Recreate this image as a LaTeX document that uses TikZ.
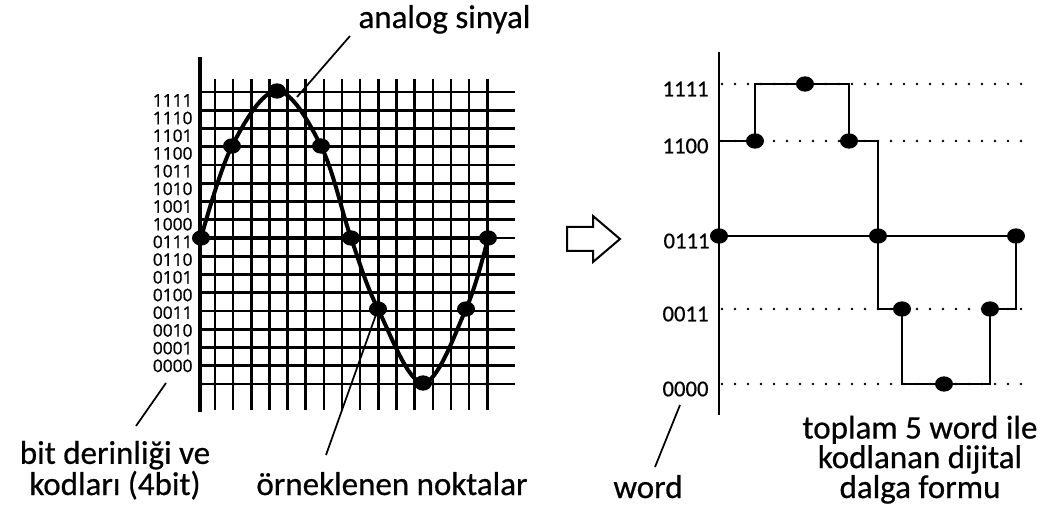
\documentclass[tikz,border=0pt]{standalone}
\usepackage{fontspec}
\setmainfont{Carlito}
\newfontfamily\capfont{Carlito}[FakeBold=0.6]
\newfontfamily\codefont{Open Sans}[FakeBold=0.9]
\usetikzlibrary{shapes.geometric}

\tikzset{every picture/.style={line width=0.75pt}}
\tikzset{
  gridln/.style={line width=1.9pt},
  axisln/.style={line width=3.5pt},
  waveln/.style={line width=3pt, line join=round, line cap=round},
  stairln/.style={line width=1.8pt, line join=miter},
  dotln/.style={line width=1.9pt, line cap=round, dash pattern=on 0pt off 9.75pt},
  leader/.style={line width=1.3pt},
  sample/.style={ellipse, fill=black, inner sep=0pt, minimum width=13.5pt, minimum height=11.5pt},
  leftcodes/.style={inner sep=0pt, align=right, font=\codefont\fontsize{13}{13.275}\selectfont},
  rightcode/.style={anchor=east, inner sep=0pt, font=\capfont\fontsize{17}{17}\selectfont},
  caption/.style={inner sep=0pt, align=center, font=\capfont\fontsize{24.75}{21}\selectfont}
}

\begin{document}
\begin{tikzpicture}[x=0.75pt,y=0.75pt,yscale=-1,xscale=1]
\useasboundingbox (0,0) rectangle (1049,513);

%Grid: horizontal lines
\foreach \i in {0,...,16}
  \draw[gridln] (200,{92+18.25*\i}) -- (515,{92+18.25*\i});
%Grid: vertical lines
\foreach \j in {0,...,15}
  \draw[gridln] ({215+18.15*\j},79) -- ({215+18.15*\j},410);
%Left axis
\draw[axisln] (200,57) -- (200,412);

%Sampled points of the analog signal
\node[sample] (s0) at (201,238) {};
\node[sample] (s1) at (232,146) {};
\node[sample] (s2) at (277,91) {};
\node[sample] (s3) at (321,146) {};
\node[sample] (s4) at (351,238) {};
\node[sample] (s5) at (378,309) {};
\node[sample] (s6) at (423,383) {};
\node[sample] (s7) at (466,309) {};
\node[sample] (s8) at (488,238) {};

%Zero line (0111)
\draw[axisln] (s0.center) -- (s8.center);
%Analog signal
\draw[waveln] plot[smooth, tension=0.6] coordinates {(s0.center) (s1.center) (s2.center) (s3.center) (s4.center) (s5.center) (s6.center) (s7.center) (s8.center)};

%Bit codes
\node[leftcodes, anchor=base east] (codes) at (193,372) {1111\\1110\\1101\\1100\\1011\\1010\\1001\\1000\\0111\\0110\\0101\\0100\\0011\\0010\\0001\\0000};

% Text Node
\node[caption, anchor=base west] (analog) at (358,28) {analog sinyal};
\coordinate (apex) at (297,97);
\draw[leader] (apex) -- ([shift={(-8,8)}]analog.base west);

% Text Node
\node[caption, anchor=base] (bitdepth) at (115,495) {bit derinliği ve\\kodları (4bit)};
\coordinate (bdtop) at (166,383);
\coordinate (bdfoot) at (136,426);
\draw[leader] (bdtop) -- (bdfoot);

% Text Node
\node[caption, anchor=base] (samples) at (392,495) {örneklenen noktalar};
\coordinate (smfoot) at (326,455);
\draw[leader] (s5.center) -- (smfoot);

%Hollow arrow
\draw[line width=1.5pt, line join=miter] (567,227) -- (593,227) -- (593,216) -- (620,239) -- (593,262) -- (593,251) -- (567,251) -- cycle;

%Dotted levels
\foreach \lv in {84,141,309,384}
  \draw[dotln] (722,\lv) -- (1023,\lv);
%Right axis
\draw[line width=2pt] (719,52) -- (719,415);

%Right codes
\node[rightcode] (r1111) at (709,89) {1111};
\node[rightcode] (r1100) at (709,146) {1100};
\node[rightcode] (r0111) at (710,241) {0111};
\node[rightcode] (r0011) at (709,314) {0011};
\node[rightcode] (r0000) at (709,389) {0000};

%Digital samples
\node[sample] (d0) at (719,236) {};
\node[sample] (d1) at (755,141) {};
\node[sample] (d2) at (805,84) {};
\node[sample] (d3) at (849,141) {};
\node[sample] (d4) at (878,236) {};
\node[sample] (d5) at (902,309) {};
\node[sample] (d6) at (944,384) {};
\node[sample] (d7) at (990,309) {};
\node[sample] (d8) at (1016,236) {};
\coordinate (axis1100) at (719,141);

%Digital waveform
\draw[stairln] (axis1100) -- (d1.center) |- (d2.center) -| (d3.center) -| (d4.center) |- (d5.center) |- (d6.center) -| (d7.center) -| (d8.center);
\draw[stairln] (d0.center) -- (d8.center);

% Text Node
\node[caption, anchor=base] (word) at (648,498) {word};
\coordinate (wordtop) at (680,405);
\coordinate (wordfoot) at (655,467);
\draw[leader] (wordtop) -- (wordfoot);

% Text Node
\node[caption, anchor=base] (total) at (920,498) {toplam 5 word ile\\kodlanan dijital\\dalga formu};

\end{tikzpicture}
\end{document}
